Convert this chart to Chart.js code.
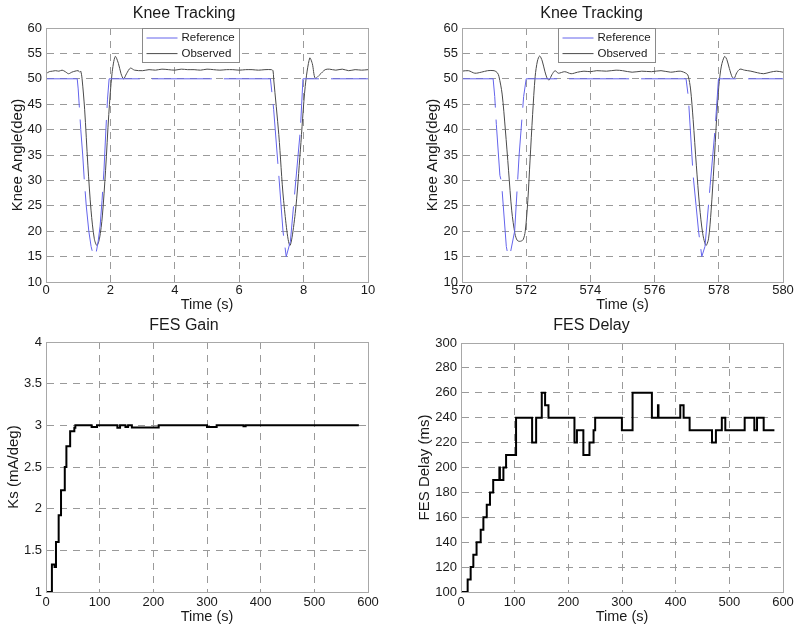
<!DOCTYPE html>
<html>
<head>
<meta charset="utf-8">
<script src="https://cdn.jsdelivr.net/npm/chart.js@4.4.1/dist/chart.umd.min.js"></script>
<style>
  body { margin: 0; background: #fff; }
  .cell { position: absolute; }
</style>
</head>
<body>
<div class="cell" style="left:0;top:0"><canvas id="c1" width="400" height="316"></canvas></div>
<div class="cell" style="left:400px;top:0"><canvas id="c2" width="400" height="316"></canvas></div>
<div class="cell" style="left:0;top:316px"><canvas id="c3" width="400" height="316"></canvas></div>
<div class="cell" style="left:400px;top:316px"><canvas id="c4" width="400" height="316"></canvas></div>
<script>
// knee tracking, first 10 s
var t1_ref = [0, 0.97, 1.0, 1.03, 1.08, 1.14, 1.19, 1.25, 1.33, 1.40, 1.48, 1.55, 1.62, 1.68, 1.74, 1.80, 1.86, 1.91, 1.96, 6.97, 7.07, 7.23, 7.36, 7.46, 7.59, 7.74, 7.9, 7.98, 10];
var v1_ref = [50, 50, 48, 45, 40, 35, 30, 25, 20, 17, 15, 15.5, 18, 21, 26, 32, 40, 46, 50, 50, 44, 31, 20, 15, 18, 28.7, 40, 50, 50];
var t1_obs = [0, 0.1, 0.2, 0.3, 0.4, 0.5, 0.6, 0.7, 0.8, 0.9, 1.0, 1.05, 1.08, 1.12, 1.2, 1.3, 1.4, 1.5, 1.58, 1.66, 1.75, 1.85, 1.95, 2.05, 2.15, 2.25, 2.33, 2.41, 2.5, 2.62, 2.75,
  3.0, 3.2, 3.4, 3.6, 3.8, 4.0, 4.2, 4.4, 4.6, 4.8, 5.0, 5.2, 5.4, 5.6, 5.8, 6.0, 6.2, 6.4, 6.6, 6.8, 7.0, 7.05, 7.07, 7.23, 7.38, 7.57, 7.74, 7.9, 8.05, 8.19, 8.27, 8.36, 8.5, 8.67, 8.8, 9.0, 9.2, 9.4, 9.6, 9.8, 10];
var v1_obs = [51.0, 51.4, 51.5, 51.6, 51.5, 51.7, 51.4, 51.0, 51.3, 51.5, 51.6, 51.3, 51.5, 50, 44, 33, 24, 18.5, 17.2, 18.5, 23, 32, 43, 51, 54.4, 53, 51, 50.0, 51, 52.1, 51.7,
  51.6, 51.8, 51.7, 51.9, 51.8, 51.7, 51.9, 51.8, 51.8, 51.7, 51.9, 51.8, 51.7, 51.8, 51.8, 51.7, 51.8, 51.8, 51.7, 51.8, 51.8, 51.6, 50, 39, 26, 17.2, 23.5, 36, 48.5, 54.1, 53, 50.1, 50.8, 51.8, 51.9, 51.7, 51.9, 51.6, 51.8, 51.7, 51.8];

// knee tracking, 570-580 s
var t2_ref = [570, 570.97, 571.02, 571.07, 571.18, 571.23, 571.38, 571.44, 571.5, 571.64, 571.78, 571.92, 572.0, 576.98, 577.05, 577.2, 577.37, 577.47, 577.57, 577.73, 577.89, 577.99, 580];
var v2_ref = [50, 50, 46.5, 41, 31, 29.7, 17, 15, 15.5, 20, 35, 46.5, 50, 50, 46.5, 31, 20, 15, 17, 29, 40.6, 50, 50];
var t2_obs = [570, 570.2, 570.4, 570.6, 570.8, 571.0, 571.1, 571.15, 571.25, 571.35, 571.45, 571.55, 571.65, 571.72, 571.8, 571.9, 571.97, 572.05, 572.12, 572.2, 572.28, 572.35, 572.42, 572.5, 572.58, 572.66, 572.72, 572.8, 572.9,
  573.0, 573.2, 573.4, 573.6, 573.8, 574.0, 574.2, 574.5, 574.8, 575.0, 575.3, 575.6, 575.9, 576.2, 576.5, 576.8, 577.0,
  577.05, 577.12, 577.2, 577.3, 577.4, 577.5, 577.6, 577.68, 577.76, 577.85, 577.93, 578.0, 578.08, 578.18, 578.25, 578.33, 578.42, 578.48, 578.56, 578.66, 578.8, 579.0, 579.2, 579.4, 579.6, 579.8, 580];
var v2_obs = [51.5, 51.6, 51.1, 51.3, 51.6, 51.6, 51.2, 50.5, 47, 40, 32, 24, 19.5, 18.2, 18, 18.3, 20, 26, 34, 43, 50.5, 53.5, 54.5, 53.5, 51.5, 50, 49.8, 50.8, 51.6,
  51.1, 51.4, 51.0, 51.3, 51.5, 51.4, 51.6, 51.5, 51.7, 51.6, 51.3, 51.5, 51.4, 51.6, 51.3, 51.5, 51.0,
  50.5, 48, 42, 33, 25, 19.5, 17.2, 18.5, 24, 33, 42, 48.5, 52.5, 54.4, 53.8, 52, 50.3, 50.1, 51.2, 51.9, 51.7, 51.5, 51.2, 51.0, 51.3, 51.5, 51.3];

// FES gain steps (value holds from each time on)
var t_gain = [0, 11, 16, 18.6, 23.6, 28, 35, 38, 45, 52.8, 54.7, 85, 95, 133, 138, 148, 153, 160, 210, 300, 318, 368, 372, 583];
var v_gain = [1.0, 1.33, 1.30, 1.6, 1.92, 2.22, 2.5, 2.75, 2.93, 2.97, 3.0, 2.98, 3.0, 2.97, 3.0, 2.98, 3.0, 2.975, 3.0, 2.98, 3.0, 2.99, 3.0, 3.0];

// FES delay steps
var t_delay = [0, 12.4, 18, 23, 29, 36.7, 41.7, 48, 54, 60, 71.5, 72.5, 79, 84, 102.6, 132.5, 140, 150.5, 156.7, 163, 211.4, 216, 228, 239.4, 247, 250, 299.8, 319.7, 355.7, 367, 368, 408.6, 414.8, 426, 467.7, 475, 486, 492.5, 528.6, 546.6, 551.6, 564, 584];
var v_delay = [100, 110, 120, 130, 140, 150, 160, 170, 180, 190, 200, 190, 200, 210, 240, 220, 240, 260, 250, 240, 220, 230, 210, 220, 230, 240, 230, 260, 240, 250, 240, 250, 240, 230, 220, 230, 240, 230, 240, 230, 240, 230, 230];

var FONT = "'Liberation Sans', Arial, sans-serif";
var TXT = '#1a1a1a';
var DASH = [7, 6];

function pts(xs, ys) {
  return xs.map(function (x, i) { return { x: x, y: ys[i] }; });
}

function plainNum(v) {
  return String(Math.round(v * 100) / 100);
}

var boxPlugin = {
  id: 'axbox',
  afterDatasetsDraw: function (chart) {
    var a = chart.chartArea, ctx = chart.ctx;
    ctx.save();
    ctx.setLineDash([]);
    ctx.strokeStyle = '#a8a8a8';
    ctx.lineWidth = 1;
    ctx.strokeRect(Math.round(a.left) + 0.5, Math.round(a.top) + 0.5, Math.round(a.right - a.left), Math.round(a.bottom - a.top));
    ctx.restore();
  }
};

var legendBoxPlugin = {
  id: 'legendBox',
  afterDraw: function (chart, args, opts) {
    if (!opts.show) return;
    var a = chart.chartArea, ctx = chart.ctx;
    var x = Math.round(a.left + 96) + 0.5, y = Math.round(a.top) + 0.5;
    ctx.save();
    ctx.setLineDash([]);
    ctx.fillStyle = '#fff';
    ctx.fillRect(x, y, 97, 34);
    ctx.strokeStyle = '#8a8a8a';
    ctx.lineWidth = 1;
    ctx.strokeRect(x, y, 97, 34);
    ctx.font = '11.5px ' + FONT;
    ctx.textBaseline = 'middle';
    chart.data.datasets.forEach(function (ds, i) {
      var yy = y + 9.5 + i * 15.6;
      ctx.strokeStyle = ds.borderColor;
      ctx.lineWidth = 1;
      ctx.beginPath();
      ctx.moveTo(x + 4, yy);
      ctx.lineTo(x + 35, yy);
      ctx.stroke();
      ctx.fillStyle = TXT;
      ctx.fillText(ds.label, x + 39, yy);
    });
    ctx.restore();
  }
};

function makeChart(id, cfg) {
  var grid = { color: '#9a9a9a', lineWidth: 1, drawTicks: false, borderDash: DASH };
  var border = { display: true, color: 'rgba(0,0,0,0)', width: 1, dash: DASH };
  return new Chart(document.getElementById(id), {
    type: 'line',
    data: { datasets: cfg.datasets },
    options: {
      responsive: false,
      animation: false,
      devicePixelRatio: 1,
      layout: { padding: { left: 0, right: cfg.padRight, top: 0, bottom: 0 } },
      elements: { point: { radius: 0 } },
      plugins: {
        legend: { display: false },
        tooltip: { enabled: false },
        legendBox: { show: cfg.legend },
        title: {
          display: true,
          text: cfg.title,
          color: TXT,
          font: { family: FONT, size: 16, weight: 'normal' },
          padding: { top: cfg.titleTop, bottom: cfg.titleBottom }
        }
      },
      scales: {
        x: {
          type: 'linear',
          min: cfg.xmin, max: cfg.xmax,
          ticks: { stepSize: cfg.xstep, color: TXT, padding: cfg.xTickPad, maxRotation: 0, autoSkip: false, font: { family: FONT, size: 13 }, callback: plainNum },
          grid: grid,
          border: border,
          title: { display: true, text: 'Time (s)', color: TXT, font: { family: FONT, size: 14.5 }, padding: { top: 0, bottom: cfg.xTitlePad } },
          afterFit: function (s) { s.height = cfg.xHeight; }
        },
        y: {
          min: cfg.ymin, max: cfg.ymax,
          ticks: { stepSize: cfg.ystep, color: TXT, padding: 4, font: { family: FONT, size: 13 }, callback: plainNum },
          grid: grid,
          border: border,
          title: { display: true, text: cfg.ytitle, color: TXT, font: { family: FONT, size: 15 }, padding: { top: cfg.yTitlePad, bottom: 0 } },
          afterFit: function (s) { s.width = cfg.yWidth; }
        }
      }
    },
    plugins: [boxPlugin, legendBoxPlugin]
  });
}

function kneeSets(tr, vr, to, vo) {
  return [
    { label: 'Reference', data: pts(tr, vr), borderColor: '#6464ec', borderWidth: 1, borderDash: [60, 12], fill: false, tension: 0 },
    { label: 'Observed', data: pts(to, vo), borderColor: '#4a4a4a', borderWidth: 1, fill: false, tension: 0.3 }
  ];
}

makeChart('c1', {
  datasets: kneeSets(t1_ref, v1_ref, t1_obs, v1_obs), legend: true,
  title: 'Knee Tracking', titleTop: 4, titleBottom: 4.8,
  xmin: 0, xmax: 10, xstep: 2, ymin: 10, ymax: 60, ystep: 5,
  ytitle: 'Knee Angle(deg)', yTitlePad: 8.5, yWidth: 46, padRight: 32,
  xHeight: 34, xTickPad: 1, xTitlePad: 2
});

makeChart('c2', {
  datasets: kneeSets(t2_ref, v2_ref, t2_obs, v2_obs), legend: true,
  title: 'Knee Tracking', titleTop: 4, titleBottom: 4.8,
  xmin: 570, xmax: 580, xstep: 2, ymin: 10, ymax: 60, ystep: 5,
  ytitle: 'Knee Angle(deg)', yTitlePad: 24, yWidth: 62, padRight: 17,
  xHeight: 34, xTickPad: 1, xTitlePad: 2
});

makeChart('c3', {
  datasets: [{ label: 'Ks', data: pts(t_gain, v_gain), borderColor: '#000', borderWidth: 2, stepped: true, fill: false }],
  legend: false,
  title: 'FES Gain', titleTop: 0, titleBottom: 6.8,
  xmin: 0, xmax: 600, xstep: 100, ymin: 1, ymax: 4, ystep: 0.5,
  ytitle: 'Ks (mA/deg)', yTitlePad: 4.7, yWidth: 46, padRight: 32,
  xHeight: 40, xTickPad: 3, xTitlePad: 6
});

makeChart('c4', {
  datasets: [{ label: 'Delay', data: pts(t_delay, v_delay), borderColor: '#000', borderWidth: 2, stepped: true, fill: false }],
  legend: false,
  title: 'FES Delay', titleTop: 0, titleBottom: 7.8,
  xmin: 0, xmax: 600, xstep: 100, ymin: 100, ymax: 300, ystep: 20,
  ytitle: 'FES Delay (ms)', yTitlePad: 16, yWidth: 61, padRight: 17,
  xHeight: 40, xTickPad: 3, xTitlePad: 6
});
</script>
</body>
</html>
